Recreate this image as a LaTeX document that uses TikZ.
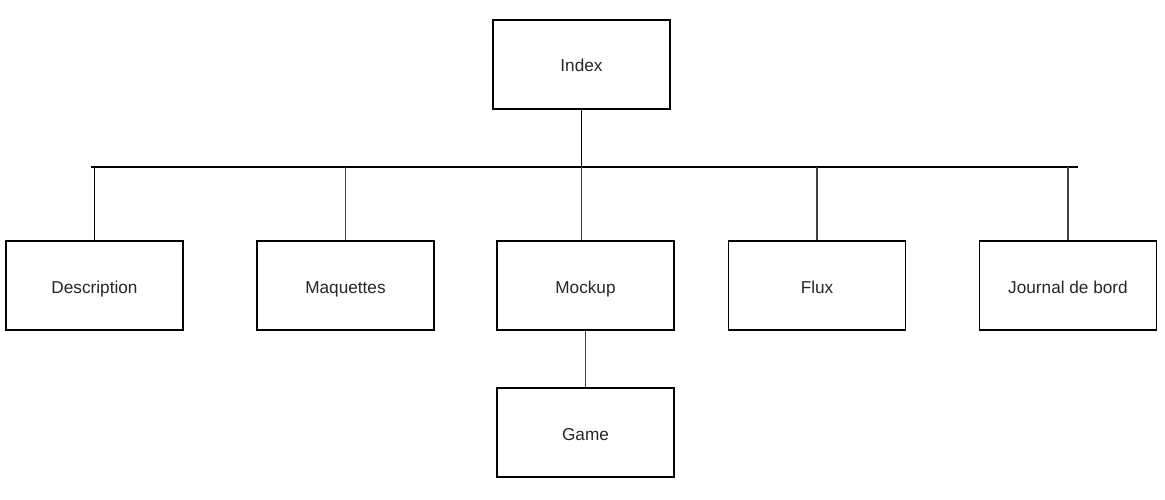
\documentclass[tikz,border=0pt]{standalone}
\usepackage{fontspec}
\setmainfont{Liberation Sans}
\begin{document}
\begin{tikzpicture}[x=1pt,y=-1pt,
  box/.style={draw=black, line width=1.4pt, minimum width=177pt, minimum height=89pt, inner sep=0pt, text height=15pt, text depth=0pt, font=\fontsize{17.2}{20}\selectfont, text=black!85},
  link/.style={draw=black, line width=1.4pt},
  glink/.style={draw=black!75, line width=1.4pt}]
\path[use as bounding box] (0,0) rectangle (1165,500);
\node[box] (index) at (581.5,64.5) {Index};
\node[box] (desc) at (94.5,285.5) {Description};
\node[box] (maq) at (345.5,285.5) {Maquettes};
\node[box] (mock) at (585.5,285.5) {Mockup};
\node[box] (flux) at (817,285.5) {Flux};
\node[box] (jour) at (1068,285.5) {Journal de bord};
\node[box] (game) at (585.5,432.5) {Game};
\coordinate (busL) at (91,167);
\coordinate (busR) at (1078,167);
\draw[link] (busL) -- (busR);
\draw[link] (index.south) -- (index.south |- busL);
\draw[glink] (index.south |- busL) -- (index.south |- mock.north);
\draw[link] (desc.north) -- (desc.north |- busL);
\draw[glink] (maq.north) -- (maq.north |- busL);
\draw[glink] (flux.north) -- (flux.north |- busL);
\draw[glink] (jour.north) -- (jour.north |- busL);
\draw[glink] (mock.south) -- (game.north);
\end{tikzpicture}
\end{document}
